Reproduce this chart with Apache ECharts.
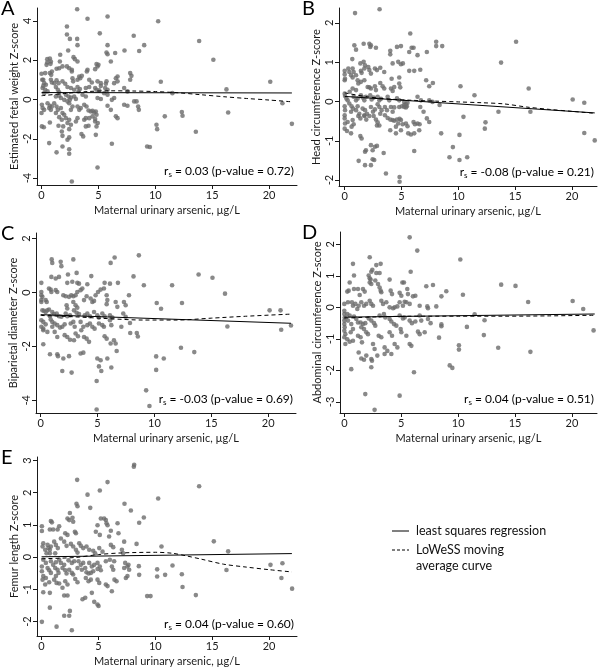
<!DOCTYPE html>
<html><head><meta charset="utf-8">
<script src="https://cdn.jsdelivr.net/npm/echarts@6/dist/echarts.min.js"></script>
<style>html,body{margin:0;padding:0;background:#fff}#c{width:600px;height:668px}</style>
</head><body><div id="c"></div>
<script>
const xTicks = [0, 5, 10, 15, 20];
const panelLetters = ['A', 'B', 'C', 'D', 'E'];
const yTitles = ['Estimated fetal weight Z-score', 'Head circumference Z-score', 'Biparietal diameter Z-score', 'Abdominal circumference Z-score', 'Femur length Z-score'];
const xTitle = 'Maternal urinary arsenic, \u00b5g/L';
const yTicksA = [-4, -2, 0, 2, 4];
const yTicksB = [-2, -1, 0, 1, 2];
const yTicksC = [-4, -2, 0, 2];
const yTicksD = [-3, -2, -1, 0, 1, 2];
const yTicksE = [-2, -1, 0, 1, 2, 3];
const rsValues = ['0.03', '-0.08', '-0.03', '0.04', '0.04'];
const pValues = ['0.72', '0.21', '0.69', '0.51', '0.60'];
const legendLabels = ['least squares regression', 'LoWeSS moving', 'average curve'];

const ptsA = [[3.13,4.59],[4.04,4.1],[5.8,4.22],[2.23,3.71],[5.12,3.36],[8.1,3.24],[2.23,3.3],[2.49,3.08],[3.13,3.08],[3.16,2.76],[5.8,2.76],[2.34,2.49],[7.29,2.49],[6.47,2.36],[5.71,2.39],[5.8,2.3],[1.64,2.27],[2.81,2.15],[2.93,2.05],[3.16,1.93],[0.5,2.05],[0.73,2.08],[0.82,1.93],[0.5,1.88],[0.79,1.81],[0.44,1.76],[1.61,1.93],[4.83,1.8],[5.0,1.76],[4.92,1.68],[6.09,1.93],[2.23,1.68],[2.43,1.59],[2.66,1.51],[2.66,1.42],[1.55,1.59],[1.84,1.68],[1.32,1.56],[0.91,1.42],[0.73,1.34],[0.85,1.25],[0,1.31],[0.06,1.0],[0.32,1.34],[4.04,1.51],[3.98,1.42],[4.71,1.54],[6.68,1.17],[6.53,1.08],[7.79,1.34],[7.9,1.2],[3.31,1.17],[3.54,1.2],[3.4,1.08],[3.16,1.0],[2.72,1.08],[2.78,0.92],[0.15,1.0],[0.23,0.83],[0.38,0.75],[0.15,0.69],[0.82,1.0],[0.91,0.86],[1.11,0.83],[1.32,0.97],[1.49,0.83],[1.84,0.92],[2.08,0.8],[4.19,1.0],[4.42,0.86],[4.92,0.92],[5.21,0.83],[5.21,0.69],[5.71,0.92],[5.65,0.8],[6.38,0.83],[6.68,0.92],[7.79,1.0],[0.09,0.58],[0.32,0.49],[0.53,0.41],[0.23,0.32],[1.26,0.63],[1.43,0.49],[1.55,0.36],[2.28,0.63],[2.58,0.58],[2.87,0.49],[3.16,0.63],[3.37,0.53],[3.25,0.41],[3.89,0.58],[4.19,0.63],[4.71,0.58],[4.83,0.49],[5.07,0.46],[5.59,0.58],[5.8,0.49],[7.26,0.58],[7.55,0.41],[2.14,0.24],[2.37,0.15],[2.58,0.1],[1.26,0.15],[1.55,0.19],[1.7,0.07],[1.99,-0.02],[2.28,-0.1],[2.49,-0.02],[2.87,0.15],[3.02,0.02],[3.6,0.24],[3.89,0.15],[4.92,0.07],[5.21,0.02],[5.8,0.24],[5.5,0.32],[6.38,0.07],[6.18,-0.02],[8.14,-0.1],[0.03,-0.27],[0.09,-0.44],[0.23,-0.53],[0,-0.69],[0.53,-0.19],[0.73,-0.32],[0.91,-0.36],[0.67,-0.44],[0.82,-0.53],[1.11,-0.19],[1.32,-0.36],[1.43,-0.53],[1.26,-0.69],[1.7,-0.44],[1.84,-0.69],[1.99,-0.78],[2.14,-0.95],[2.43,-0.19],[2.72,-0.36],[2.58,-0.53],[3.16,-0.36],[3.31,-0.53],[3.45,-0.44],[3.75,-0.27],[3.95,-0.36],[4.13,-0.56],[4.33,-0.61],[4.48,-0.58],[4.63,-0.66],[4.77,-0.61],[4.83,-0.78],[4.48,-0.86],[4.19,-0.95],[4.71,-1.0],[3.89,-0.95],[3.75,-1.03],[5.8,-0.32],[6.09,-0.53],[6.53,-0.86],[6.68,-0.95],[7.26,-0.27],[7.55,-0.32],[3.16,-0.95],[3.02,-1.12],[2.43,-1.03],[2.28,-1.2],[2.58,-1.29],[1.55,-0.9],[1.78,-1.03],[0.73,-1.17],[1.49,-1.34],[1.9,-1.37],[0.03,-1.37],[0.2,-1.41],[3.89,-1.37],[4.13,-1.34],[4.71,-1.12],[4.94,-1.2],[4.83,-1.37],[2.43,-1.51],[1.78,-1.63],[3.51,-1.76],[3.66,-1.88],[4.77,-1.8],[1.84,-1.85],[2.43,-1.93],[2.28,-2.05],[0.67,-2.22],[6.18,-2.25],[1.84,-2.39],[2.43,-2.53],[2.43,-2.76],[1.32,-2.69],[4.92,-3.46],[2.66,-4.17],[10.25,3.98],[9.02,2.76],[8.58,2.46],[13.85,2.97],[15.1,2.02],[10.48,0.9],[20.1,0.9],[16.25,0.51],[11.5,0.32],[8.35,-0.1],[8.49,-0.36],[8.55,-0.53],[21.17,-0.19],[12.33,-0.64],[12.39,-0.83],[16.4,-0.66],[10.83,-0.86],[10.1,-1.29],[10.16,-1.51],[22.0,-1.24],[13.56,-1.64],[9.28,-2.39],[9.52,-2.42]];

const ptsB = [[0.91,2.25],[3.07,2.35],[5.77,1.73],[0.85,1.43],[1.0,1.32],[1.67,1.47],[2.17,1.47],[2.25,1.39],[2.31,1.43],[2.75,1.37],[4.01,1.29],[4.01,1.2],[4.6,1.39],[4.95,1.41],[5.68,1.26],[5.89,1.37],[6.06,1.37],[6.41,1.18],[7.23,1.26],[8.05,1.52],[0.67,1.08],[0,0.78],[0,0.69],[0.03,0.58],[0,0.54],[0.32,0.84],[0.41,0.75],[0.7,0.84],[0.79,0.75],[0.56,0.67],[0.7,0.61],[1.0,0.67],[1.38,0.97],[1.67,1.01],[1.79,0.92],[1.73,0.84],[1.43,0.78],[1.49,0.73],[2.08,0.88],[2.17,0.8],[2.31,0.71],[2.66,0.84],[2.84,0.8],[3.13,0.86],[3.48,0.75],[4.22,0.97],[4.71,1.01],[4.95,0.95],[5.12,0.97],[4.13,0.58],[4.8,0.61],[5.68,0.78],[6.12,0.78],[6.65,0.81],[7.17,0.54],[7.44,0.39],[7.76,0.47],[1.14,0.54],[1.2,0.46],[1.43,0.5],[1.73,0.54],[0.7,0.33],[0.44,0.25],[1.0,0.29],[2.02,0.37],[2.17,0.36],[2.31,0.33],[2.66,0.39],[2.75,0.29],[3.13,0.47],[3.34,0.39],[3.48,0.33],[4.07,0.33],[4.22,0.27],[4.36,0.37],[4.8,0.46],[4.89,0.36],[0,0.2],[0.03,0.14],[0.15,0.08],[0.26,0.03],[0.79,0.12],[1.0,0.03],[1.14,0.08],[1.43,0.16],[1.58,0.1],[1.73,0.03],[1.87,0.12],[2.25,0.16],[2.37,0.05],[2.55,0.1],[2.9,0.12],[3.05,0.03],[3.19,0.07],[3.78,0.12],[3.92,0.03],[4.6,0.08],[4.8,0.03],[5.24,-0.01],[5.53,-0.03],[5.39,-0.07],[6.41,0.12],[6.71,0.03],[7.44,0.03],[7.73,-0.01],[0,-0.12],[0.03,-0.22],[0,-0.35],[0.41,-0.05],[0.61,-0.12],[0.73,-0.18],[0.56,-0.26],[1.0,-0.22],[1.14,-0.12],[1.29,-0.31],[1.58,-0.18],[1.79,-0.22],[1.96,-0.31],[1.73,-0.35],[2.31,-0.14],[2.49,-0.26],[2.66,-0.2],[2.9,-0.07],[3.05,-0.14],[3.25,-0.22],[3.13,-0.31],[3.54,-0.14],[3.72,-0.22],[4.07,-0.14],[4.22,-0.26],[4.36,-0.15],[4.8,-0.14],[5.04,-0.12],[5.24,-0.14],[5.39,-0.15],[5.24,-0.09],[5.47,-0.12],[6.65,-0.14],[6.94,-0.26],[0,-0.43],[0.03,-0.56],[0.26,-0.52],[0.7,-0.47],[0.79,-0.58],[0.61,-0.64],[1.2,-0.37],[1.38,-0.43],[1.73,-0.37],[1.9,-0.46],[2.17,-0.37],[2.55,-0.37],[2.75,-0.46],[2.9,-0.53],[3.54,-0.35],[3.78,-0.42],[4.01,-0.46],[4.22,-0.47],[4.36,-0.49],[4.6,-0.46],[4.83,-0.44],[4.95,-0.47],[4.71,-0.56],[4.51,-0.64],[5.1,-0.58],[5.39,-0.56],[5.53,-0.63],[6.06,-0.52],[6.18,-0.58],[6.41,-0.56],[6.59,-0.58],[7.23,-0.43],[7.44,-0.52],[0,-0.69],[0.2,-0.75],[0.56,-0.81],[2.84,-0.61],[3.05,-0.61],[4.01,-0.73],[4.51,-0.81],[4.95,-0.73],[5.59,-0.81],[5.83,-0.84],[6.12,-0.81],[6.56,-0.73],[1.38,-0.88],[1.49,-0.94],[2.31,-1.11],[2.66,-1.15],[2.46,-1.24],[2.84,-1.13],[1.87,-1.24],[1.79,-1.28],[3.43,-1.31],[6.12,-1.26],[1.23,-1.51],[1.79,-1.62],[2.31,-1.62],[2.46,-1.47],[2.6,-1.49],[3.63,-1.83],[4.83,-1.92],[4.83,-2.04],[8.05,1.41],[8.58,1.41],[15.08,1.52],[13.76,0.99],[10.19,0.39],[11.42,0.16],[16.19,0.33],[8.35,-0.09],[20.06,0.05],[21.08,-0.03],[16.34,-0.26],[13.53,-0.26],[10.45,-0.39],[12.39,-0.53],[12.33,-0.69],[8.49,-0.81],[10.1,-0.85],[21.08,-0.8],[22.0,-0.99],[9.52,-1.16],[9.22,-1.42],[10.78,-1.42],[10.1,-1.49]];

const ptsC = [[0.97,1.23],[1.02,1.1],[1.76,1.14],[1.82,0.98],[2.87,1.23],[2.4,0.67],[3.16,0.73],[1.61,0.58],[1.32,0.52],[0.94,0.58],[0.06,0.36],[2.34,0.36],[2.78,0.4],[3.22,0.36],[3.37,0.33],[4.1,0.31],[4.45,0.61],[6.15,1.1],[6.5,1.3],[5.62,0.36],[6.09,0.33],[6.79,0.36],[0.73,0.15],[0.88,0.11],[0.94,0.02],[0.06,0.02],[0.06,-0.1],[0.15,-0.16],[0.06,-0.28],[0.06,-0.35],[0.44,-0.28],[0.53,-0.35],[1.32,0.09],[1.46,0.02],[1.99,-0.1],[2.2,-0.14],[2.49,-0.16],[2.69,-0.1],[2.87,-0.14],[3.07,-0.1],[3.22,0.02],[3.51,0.09],[3.66,0.15],[2.87,-0.35],[3.07,-0.47],[3.22,-0.56],[2.28,-0.47],[2.34,-0.59],[3.81,-0.28],[4.04,-0.14],[4.39,-0.22],[4.54,-0.35],[4.69,-0.31],[4.83,-0.1],[5.04,0.02],[5.27,0.11],[5.56,0.15],[5.8,-0.1],[5.86,-0.28],[5.8,-0.43],[6.59,-0.35],[6.74,-0.53],[7.32,-0.35],[7.47,-0.47],[7.76,-0.1],[0.15,-0.66],[0.29,-0.68],[0.44,-0.72],[0.59,-0.66],[0.73,-0.63],[1.02,-0.72],[1.17,-0.8],[0.82,-0.88],[1.41,-0.78],[1.61,-0.88],[1.82,-0.9],[2.2,-0.78],[2.34,-0.88],[2.58,-0.84],[2.93,-0.66],[3.16,-0.75],[3.37,-0.8],[3.87,-0.84],[4.1,-0.78],[4.33,-0.88],[4.69,-0.72],[4.98,-0.84],[5.12,-0.93],[5.42,-0.78],[5.62,-0.88],[6.09,-0.84],[6.3,-0.93],[7.26,-0.78],[7.47,-0.9],[0.06,-1.03],[0.23,-1.09],[0.44,-1.18],[0.06,-1.27],[0.23,-1.34],[0.88,-1.0],[1.02,-1.09],[1.23,-1.15],[1.02,-1.27],[1.46,-1.21],[1.7,-1.3],[1.9,-1.27],[2.11,-1.18],[2.64,-1.15],[2.87,-1.09],[2.99,-1.27],[3.51,-1.09],[3.75,-1.27],[3.57,-1.4],[4.1,-1.21],[4.33,-1.15],[4.54,-1.27],[4.74,-1.34],[5.12,-1.15],[5.42,-1.21],[5.56,-1.27],[6.09,-1.03],[6.21,-1.21],[7.09,-1.27],[7.85,-1.13],[0.23,-1.4],[0.59,-1.46],[1.23,-1.46],[1.46,-1.65],[2.11,-1.58],[2.34,-1.65],[2.58,-1.75],[3.07,-1.52],[3.28,-1.62],[2.93,-1.77],[3.81,-1.65],[4.04,-1.71],[4.25,-1.83],[5.62,-1.62],[5.8,-1.71],[6.15,-1.89],[6.44,-1.77],[6.59,-1.89],[6.68,-2.17],[0.23,-1.92],[0.82,-2.29],[1.46,-2.29],[1.52,-2.36],[1.99,-2.45],[2.49,-2.36],[3.51,-2.26],[3.75,-2.23],[4.98,-2.45],[5.27,-2.51],[5.86,-2.45],[5.12,-2.74],[5.33,-2.91],[4.92,-3.28],[6.21,-2.78],[1.9,-2.91],[2.72,-2.97],[4.92,-4.34],[8.63,1.38],[8.16,0.6],[9.07,0.27],[11.55,0.27],[13.88,0.67],[15.1,0.55],[16.2,-0.04],[10.2,-0.39],[10.58,-0.6],[12.42,-0.39],[20.12,-0.66],[21.08,-0.66],[7.87,-1.5],[8.45,-1.5],[8.54,-1.63],[16.41,-1.26],[21.14,-1.38],[22.0,-1.22],[12.33,-2.05],[13.5,-2.21],[10.15,-2.37],[10.82,-2.45],[10.15,-2.87],[9.27,-3.63],[9.56,-4.21]];

const ptsD = [[5.74,2.22],[6.41,1.8],[0.76,1.38],[2.23,1.59],[2.46,1.19],[2.37,1.13],[2.81,1.34],[3.19,1.38],[5.83,1.13],[0.85,1.01],[2.14,1.01],[2.23,0.92],[2.31,0.88],[2.23,0.79],[2.37,0.74],[2.81,1.09],[3.1,1.09],[0.47,0.79],[2.72,0.85],[2.96,0.74],[3.98,0.88],[5.1,0.79],[5.24,0.79],[0.26,0.5],[0.38,0.53],[0.85,0.58],[1.2,0.58],[1.64,0.58],[1.79,0.5],[1.35,0.39],[3.1,0.63],[3.19,0.53],[3.25,0.48],[4.07,0.53],[4.19,0.42],[4.86,0.46],[5.01,0.37],[5.53,0.58],[5.59,0.42],[6.03,0.35],[6.24,0.37],[7.2,0.67],[7.79,0.71],[0,0.11],[0.32,0.16],[0.67,0.16],[0.76,0.05],[0.97,0.11],[1.14,-0.05],[1.26,0.05],[1.49,0.16],[1.73,0.05],[1.93,0.11],[2.23,0.21],[2.37,0.11],[2.52,0.05],[3.25,0.21],[3.4,0.11],[3.69,0.16],[3.98,0],[4.28,-0.03],[4.42,0],[4.66,0.03],[4.86,0.16],[5.15,0.05],[5.3,0.18],[5.45,0.16],[5.74,0.11],[6.62,0.05],[7.29,0.03],[7.35,-0.03],[8.08,0.03],[0,-0.11],[0,-0.21],[0.03,-0.32],[0,-0.42],[0,-0.53],[0.03,-0.63],[0,-0.74],[0.09,-0.85],[0,-0.95],[0.26,-0.21],[0.47,-0.26],[0.32,-0.42],[0.61,-0.53],[0.76,-0.69],[0.56,-0.79],[0.85,-0.29],[1.05,-0.37],[1.2,-0.48],[1.43,-0.48],[1.64,-0.53],[1.84,-0.5],[1.49,-0.63],[1.73,-0.69],[2.14,-0.35],[2.37,-0.42],[2.61,-0.5],[2.72,-0.58],[3.1,-0.26],[3.48,-0.21],[3.6,-0.32],[3.98,-0.37],[4.13,-0.45],[4.36,-0.53],[4.57,-0.58],[4.86,-0.26],[5.15,-0.35],[5.3,-0.32],[5.74,-0.42],[5.94,-0.5],[6.24,-0.45],[6.62,-0.26],[6.76,-0.42],[7.35,-0.37],[7.58,-0.5],[0.26,-1.01],[0.47,-1.09],[0.76,-1.06],[0.09,-1.16],[1.2,-0.9],[1.43,-0.95],[1.55,-1.11],[1.93,-0.79],[2.08,-0.85],[2.52,-1.16],[2.66,-1.32],[3.02,-0.9],[3.25,-0.95],[3.54,-1.27],[3.78,-1.38],[3.98,-0.79],[4.19,-0.9],[4.42,-1.16],[4.66,-1.27],[4.95,-0.69],[5.01,-0.79],[5.45,-0.9],[5.74,-1.16],[5.89,-1.22],[6.47,-0.77],[6.62,-0.85],[7.06,-0.79],[1.26,-1.43],[1.49,-1.62],[1.73,-1.66],[1.93,-1.53],[2.37,-1.64],[2.43,-1.69],[2.37,-1.9],[2.9,-1.53],[3.54,-1.48],[4.13,-1.48],[0.61,-1.96],[6.12,-2.06],[1.84,-2.75],[4.86,-2.8],[2.66,-3.25],[10.19,1.52],[13.78,0.72],[15.04,0.68],[8.96,0.51],[8.53,0.35],[10.42,0.4],[16.15,0.17],[20.06,0.2],[20.99,-0.05],[11.45,-0.22],[12.32,-0.41],[8.53,-0.54],[8.53,-0.6],[10.77,-0.62],[21.9,-0.73],[12.26,-0.88],[8.32,-0.96],[10.07,-1.2],[10.07,-1.34],[13.52,-1.28],[16.35,-1.41],[9.26,-1.84],[9.49,-1.92]];

const ptsE = [[3.13,2.4],[4.04,1.94],[5.12,2.07],[5.8,2.33],[8.14,2.87],[3.07,1.66],[3.16,1.58],[4.28,1.53],[7.29,1.66],[7.85,1.45],[2.49,1.37],[2.28,1.2],[2.43,1.15],[2.72,1.22],[2.78,1.1],[0.82,1.12],[0.91,1.08],[1.55,0.96],[1.41,0.86],[0.03,0.96],[0.03,0.81],[0.73,0.86],[1.02,0.86],[2.08,0.74],[2.28,0.69],[2.93,0.79],[3.02,0.74],[4.92,0.99],[5.21,1.2],[5.5,1.2],[5.65,1.15],[5.71,1.05],[5.8,0.99],[6.09,0.82],[6.68,1.05],[5.94,0.64],[6.76,0.74],[7.26,0.48],[4.77,0.79],[5.12,0.69],[0.15,0.43],[0.09,0.33],[0.32,0.23],[0.53,0.38],[0.61,0.28],[0.73,0.23],[0.82,0.33],[0.44,0.12],[0.73,0.12],[1.11,0.48],[1.26,0.38],[1.43,0.28],[1.2,0.12],[1.7,0.58],[1.99,0.48],[2.2,0.35],[2.58,0.41],[2.78,0.33],[3.02,0.23],[3.16,0.14],[3.31,0.43],[3.45,0.35],[3.66,0.28],[3.95,0.33],[4.19,0.23],[4.54,0.2],[4.71,0.12],[5.07,0.28],[5.36,0.17],[6.09,0.38],[6.3,0.31],[7.06,0.23],[7.17,0.12],[0.15,-0.08],[0.38,-0.18],[0.03,-0.29],[0.82,-0.13],[1.02,-0.24],[1.26,-0.16],[1.55,-0.08],[1.7,-0.18],[1.99,-0.24],[2.37,-0.1],[2.66,-0.18],[2.87,-0.13],[3.25,-0.13],[3.45,-0.24],[3.66,-0.18],[4.19,-0.18],[4.42,-0.29],[4.63,-0.24],[4.92,-0.18],[5.12,-0.29],[5.65,-0.13],[6.0,-0.08],[6.38,-0.13],[7.35,-0.18],[7.64,-0.24],[0.03,-0.44],[0.15,-0.59],[0.09,-0.7],[0.53,-0.34],[0.67,-0.41],[0.82,-0.49],[1.2,-0.34],[1.41,-0.39],[1.49,-0.49],[1.26,-0.59],[1.84,-0.34],[2.08,-0.41],[2.2,-0.51],[2.43,-0.39],[2.66,-0.49],[2.78,-0.54],[3.16,-0.34],[3.54,-0.39],[3.84,-0.34],[3.95,-0.47],[4.13,-0.51],[4.33,-0.49],[4.54,-0.44],[4.92,-0.37],[5.21,-0.41],[6.18,-0.29],[6.3,-0.39],[7.26,-0.34],[7.55,-0.29],[7.7,-0.39],[0.38,-0.65],[0.67,-0.78],[0.32,-0.85],[1.11,-0.7],[1.32,-0.8],[1.55,-0.82],[2.08,-0.75],[2.28,-0.85],[1.84,-0.95],[2.96,-0.68],[3.16,-0.78],[3.89,-0.65],[4.13,-0.75],[4.33,-0.7],[4.92,-0.7],[5.07,-0.8],[5.65,-0.85],[5.8,-0.9],[6.41,-0.7],[6.59,-0.75],[7.41,-0.65],[7.55,-0.59],[0.15,-1.09],[0.73,-1.11],[1.99,-1.19],[2.28,-1.19],[3.6,-1.31],[3.84,-1.26],[4.42,-1.11],[4.63,-1.39],[4.92,-1.47],[5.01,-1.52],[6.18,-1.06],[0.73,-1.57],[1.99,-1.82],[2.43,-1.82],[2.49,-1.67],[0.03,-2.01],[1.32,-2.16],[2.66,-2.27],[8.11,2.81],[13.85,2.2],[10.25,1.82],[8.99,1.23],[8.58,1.07],[8.35,0.41],[10.54,0.33],[15.14,0.49],[16.4,0.18],[11.51,-0.26],[20.12,-0.24],[21.17,-0.19],[8.55,-0.28],[10.16,-0.38],[16.25,-0.4],[8.58,-0.55],[10.16,-0.6],[10.86,-0.55],[12.33,-0.53],[21.08,-0.65],[12.39,-0.93],[22.02,-0.98],[9.28,-1.21],[9.58,-1.21],[13.56,-1.18]];

const regA = [[0,0.35],[22,0.33]];
const regB = [[0,0.13],[22,-0.29]];
const regC = [[0,-0.82],[22,-1.14]];
const regD = [[0,-0.31],[22,-0.21]];
const regE = [[0,0.01],[22,0.11]];
const lowA = [[0,0.19],[2,0.3],[4,0.4],[6,0.44],[8,0.43],[10,0.4],[12,0.34],[14,0.24],[16,0.14],[18,0.05],[20,-0.03],[22,-0.12]];
const lowB = [[0,0.22],[2,0.12],[4,0.06],[6,0.03],[8,0.01],[10,-0.01],[12,-0.03],[14,-0.06],[16,-0.14],[18,-0.2],[20,-0.25],[22,-0.3]];
const lowC = [[0,-0.85],[3,-0.9],[6,-0.97],[9,-1.02],[12,-1.02],[15,-0.95],[18,-0.88],[22,-0.8]];
const lowD = [[0,-0.34],[3,-0.3],[6,-0.28],[10,-0.28],[14,-0.28],[18,-0.27],[22,-0.25]];
const lowE = [[0,-0.05],[3,-0.01],[5,0.08],[7,0.13],[10,0.15],[11.5,0.12],[12.7,0.04],[14,-0.06],[16,-0.22],[18,-0.31],[20,-0.39],[22,-0.46]];

const FONT = 'Lato';
const pts = [ptsA, ptsB, ptsC, ptsD, ptsE];
const regs = [regA, regB, regC, regD, regE];
const lows = [lowA, lowB, lowC, lowD, lowE];
const yTicks = [yTicksA, yTicksB, yTicksC, yTicksD, yTicksE];
// layout (pixels) and axis extents
const grids = [
  {left: 37, top: 8, width: 260, height: 177},
  {left: 339, top: 8, width: 258, height: 178},
  {left: 36, top: 233, width: 260, height: 180},
  {left: 340, top: 232, width: 257, height: 181},
  {left: 37, top: 457, width: 260, height: 181}
];
const xRanges = [[-0.4, 22.45], [-0.5, 22.2], [-0.41, 22.44], [-0.38, 22.2], [-0.4, 22.45]];
const yRanges = [[-4.35, 4.65], [-2.15, 2.38], [-4.47, 2.21], [-3.35, 2.39], [-2.45, 3.11]];

const axisCommon = {
  axisLine: {onZero: false, lineStyle: {color: '#1a1a1a', width: 1}},
  splitLine: {show: false}
};

const option = {
  animation: false,
  backgroundColor: '#fff',
  grid: grids,
  xAxis: grids.map((g, i) => Object.assign({}, axisCommon, {
    type: 'value', gridIndex: i, min: xRanges[i][0], max: xRanges[i][1],
    name: xTitle, nameLocation: 'middle', nameGap: 20,
    nameTextStyle: {fontFamily: FONT, fontSize: 11, color: '#1a1a1a'},
    axisTick: {show: true, length: 4, customValues: xTicks, lineStyle: {color: '#1a1a1a'}},
    axisLabel: {customValues: xTicks, margin: 5, fontFamily: FONT, fontSize: 11, color: '#1a1a1a'}
  })),
  yAxis: grids.map((g, i) => Object.assign({}, axisCommon, {
    type: 'value', gridIndex: i, min: yRanges[i][0], max: yRanges[i][1],
    name: yTitles[i], nameLocation: 'middle', nameGap: 17,
    nameTextStyle: {fontFamily: FONT, fontSize: 11, color: '#1a1a1a'},
    axisTick: {show: true, length: 4, customValues: yTicks[i], lineStyle: {color: '#1a1a1a'}},
    axisLabel: {customValues: yTicks[i], rotate: 90, margin: 4, fontFamily: FONT, fontSize: 11, color: '#1a1a1a'}
  })),
  series: [].concat(
    pts.map((d, i) => ({type: 'scatter', xAxisIndex: i, yAxisIndex: i, data: d, symbolSize: 4.6,
      itemStyle: {color: '#6c6c6c'}, z: 2})),
    regs.map((d, i) => ({type: 'line', xAxisIndex: i, yAxisIndex: i, data: d, showSymbol: false, symbol: 'none',
      lineStyle: {color: '#000', width: 1}, z: 4})),
    lows.map((d, i) => ({type: 'line', xAxisIndex: i, yAxisIndex: i, data: d, showSymbol: false, symbol: 'none', smooth: 0.3,
      lineStyle: {color: '#000', width: 1, type: [4, 3]}, z: 4}))
  ),
  graphic: [].concat(
    grids.map((g, i) => ({type: 'text', left: (i % 2 === 0 ? 1 : 302), top: g.top - 9,
      style: {text: panelLetters[i], fontFamily: FONT, fontSize: 20, fill: '#000'}})),
    grids.map((g, i) => ({type: 'text', x: g.left + g.width - 3, y: g.top + g.height - 14,
      style: {text: '{a|r}{s|s}{a| = ' + rsValues[i] + ' (p-value = ' + pValues[i] + ')}', align: 'right', verticalAlign: 'middle',
        rich: {a: {fontFamily: FONT, fontSize: 12, fill: '#000', lineHeight: 14},
               s: {fontFamily: FONT, fontSize: 8, fill: '#000', lineHeight: 8, verticalAlign: 'bottom'}}}})),
    [
      {type: 'line', shape: {x1: 392, y1: 531, x2: 409, y2: 531}, style: {stroke: '#000', lineWidth: 1}},
      {type: 'line', shape: {x1: 392, y1: 550, x2: 409, y2: 550}, style: {stroke: '#000', lineWidth: 1, lineDash: [3, 2]}},
      {type: 'text', x: 416, y: 531, style: {text: legendLabels[0], fontFamily: FONT, fontSize: 12.5, fill: '#111', verticalAlign: 'middle'}},
      {type: 'text', x: 416, y: 550, style: {text: legendLabels[1], fontFamily: FONT, fontSize: 12.5, fill: '#111', verticalAlign: 'middle'}},
      {type: 'text', x: 416, y: 566, style: {text: legendLabels[2], fontFamily: FONT, fontSize: 12.5, fill: '#111', verticalAlign: 'middle'}}
    ]
  )
};
const chart = echarts.init(document.getElementById('c'), null, {renderer: 'canvas'});
chart.setOption(option);
</script></body></html>
